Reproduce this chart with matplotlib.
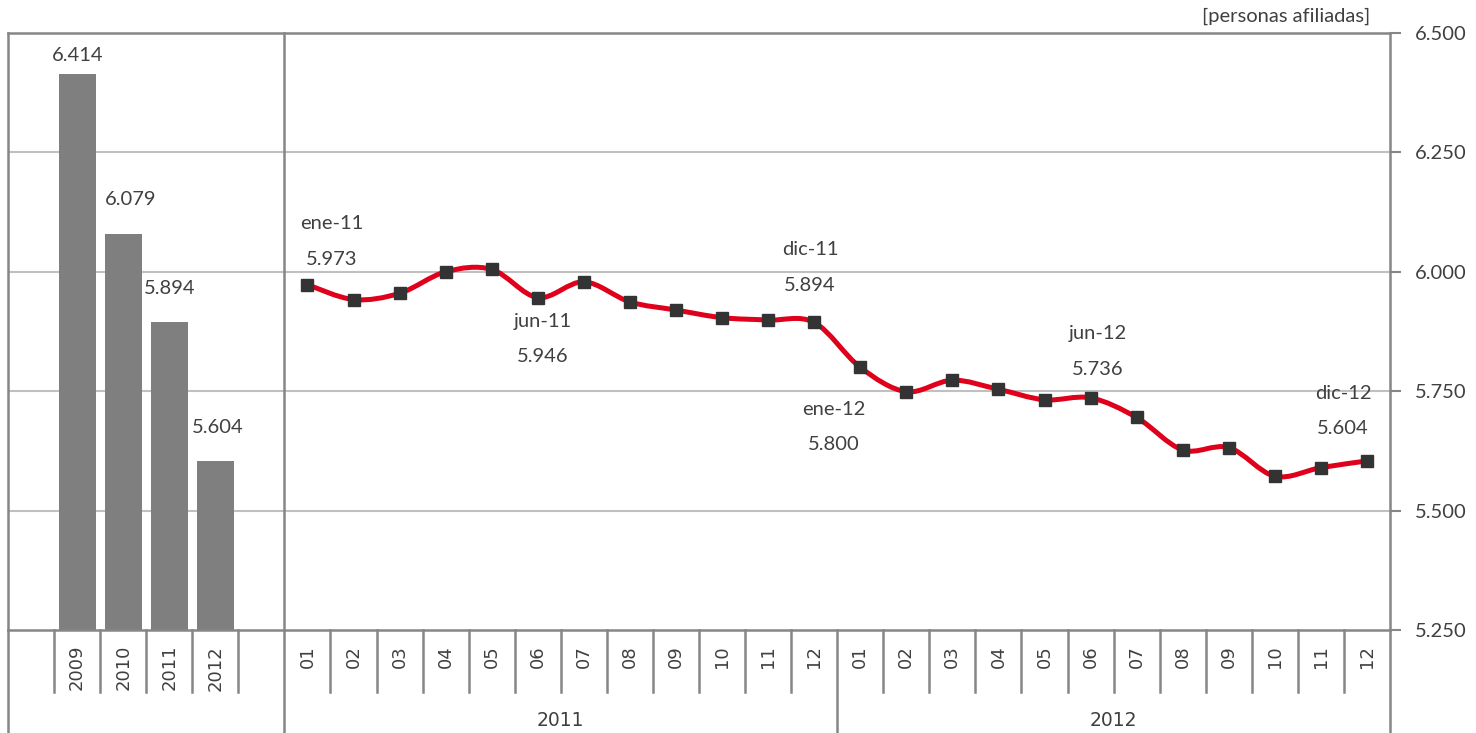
import numpy as np
import matplotlib
matplotlib.use('Agg')
from matplotlib import pyplot as plt
from matplotlib.path import Path
from matplotlib.patches import PathPatch
from matplotlib.lines import Line2D
import matplotlib.transforms as mtransforms

# data
years = ['2009', '2010', '2011', '2012']
year_values = [6.414, 6.079, 5.894, 5.604]

months = ['01', '02', '03', '04', '05', '06', '07', '08', '09', '10', '11', '12']
values_2011 = [5.973, 5.942, 5.955, 6.000, 6.005, 5.946, 5.979, 5.937, 5.920, 5.904, 5.899, 5.894]
values_2012 = [5.800, 5.749, 5.773, 5.754, 5.732, 5.736, 5.695, 5.627, 5.632, 5.572, 5.590, 5.604]

# labelled points: (month index in the 24-month series, label)
callouts = [(0, 'ene-11'), (5, 'jun-11'), (11, 'dic-11'), (12, 'ene-12'), (17, 'jun-12'), (23, 'dic-12')]

yticks = [5.25, 5.5, 5.75, 6.0, 6.25, 6.5]

# colours / fonts
GRAY_TXT = '#404040'
AX_COL = '#868686'
GRID_COL = '#c0c0c0'
BAR_COL = '#7f7f7f'
LINE_COL = '#e0001b'
MARK_COL = '#333333'
FONT = 'Lato'
TICKFONT = 'DejaVu Sans'

W, H = 1476, 733
fig = plt.figure(figsize=(W / 100, H / 100), dpi=100)
ax = fig.add_axes([8 / W, (H - 630) / H, 1382 / W, 597 / H])

# x layout: 0 empty, 1-4 bars, 5 empty, 6-29 months
bar_x = np.arange(1, 5)
line_x = np.arange(6, 30)
line_y = np.array(values_2011 + values_2012)

ax.set_xlim(-0.5, 29.5)
ax.set_ylim(5.25, 6.5)

for y in yticks[1:-1]:
    ax.axhline(y, color=GRID_COL, lw=1.5, zorder=0)

ax.bar(bar_x, year_values, width=0.8, color=BAR_COL, zorder=2)

# smoothed line (Bezier through the points, like a spreadsheet "smooth line")
pts = np.column_stack([line_x, line_y])
ext = np.vstack([pts[0], pts, pts[-1]])
verts = [tuple(pts[0])]
codes = [Path.MOVETO]
for i in range(len(pts) - 1):
    p0, p1, p2, p3 = ext[i], ext[i + 1], ext[i + 2], ext[i + 3]
    c1 = p1 + (p2 - p0) / 6
    c2 = p2 - (p3 - p1) / 6
    verts += [tuple(c1), tuple(c2), tuple(p2)]
    codes += [Path.CURVE4] * 3
ax.add_patch(PathPatch(Path(verts, codes), facecolor='none', edgecolor=LINE_COL,
                       lw=3.6, capstyle='round', joinstyle='round', zorder=3))
ax.plot(line_x, line_y, ls='none', marker='s', ms=8, color=MARK_COL, zorder=4)

# spines / axes
for s in ['left', 'bottom']:
    ax.spines[s].set_visible(False)
ax.spines['top'].set_color(AX_COL)
ax.spines['top'].set_linewidth(1.8)
ax.spines['right'].set_color(AX_COL)
ax.spines['right'].set_linewidth(1.8)
ax.axhline(5.25, color=AX_COL, lw=1.8, zorder=5, clip_on=False)

ax.yaxis.tick_right()
ax.set_yticks(yticks)
ax.set_yticklabels([f'{v:.3f}' for v in yticks], fontsize=14.5, family=FONT, color=GRAY_TXT)
ax.tick_params(axis='y', length=8, width=1.5, color=AX_COL, pad=10)
ax.set_xticks([])

# category grid below the axes
tr = mtransforms.blended_transform_factory(ax.transData, fig.transFigure)
y_axis = (H - 630) / H
y_short = (H - 692) / H
for b in np.arange(-0.5, 30, 1.0):
    if b in (-0.5, 5.5, 17.5, 29.5):
        y0 = 0
    else:
        y0 = y_short
    ax.add_line(Line2D([b, b], [y0, y_axis], transform=tr, color=AX_COL, lw=1.8, clip_on=False))
ax.add_line(Line2D([-0.5, -0.5], [y_axis, 1 - 33 / H], transform=tr, color=AX_COL, lw=1.8, clip_on=False))
ax.add_line(Line2D([5.5, 5.5], [y_axis, 1 - 33 / H], transform=tr, color=AX_COL, lw=1.8, clip_on=False))

tick_y = (H - 645) / H
for x, lab in zip(list(bar_x) + list(line_x), years + months + months):
    ax.text(x, tick_y, lab, transform=tr, rotation=90, ha='center', va='top',
            fontsize=13, fontfamily=TICKFONT, color=GRAY_TXT)
ax.text(11.5, (H - 720) / H, '2011', transform=tr, ha='center', va='center',
        fontsize=13.5, fontfamily=TICKFONT, color=GRAY_TXT)
ax.text(23.5, (H - 720) / H, '2012', transform=tr, ha='center', va='center',
        fontsize=13.5, fontfamily=TICKFONT, color=GRAY_TXT)

fig.text(1370 / W, 1 - 16 / H, '[personas afiliadas]', ha='right', va='center',
         fontsize=14.5, family=FONT, color=GRAY_TXT)

# labels (offsets in pixels)
px = 0.72
bar_offsets = [(1, 19), (7, 35), (0, 34), (2, 33)]
for x, v, (dx, dy) in zip(bar_x, year_values, bar_offsets):
    ax.annotate(f'{v:.3f}', (x, v), xytext=(dx * px, dy * px), textcoords='offset points',
                ha='center', va='center', fontsize=14.5, family=FONT, color=GRAY_TXT)

callout_offsets = {0: (24, 61, 25), 5: (5, -24, -59), 11: (-4, 73, 37),
                   12: (-26, -42, -77), 17: (7, 64, 28), 23: (-24, 67, 32)}
for i, name in callouts:
    dx, dn, dv = callout_offsets[i]
    xy = (line_x[i], line_y[i])
    ax.annotate(name, xy, xytext=(dx * px, dn * px), textcoords='offset points',
                ha='center', va='center', fontsize=14.5, family=FONT, color=GRAY_TXT)
    ax.annotate(f'{line_y[i]:.3f}', xy, xytext=(dx * px, dv * px), textcoords='offset points',
                ha='center', va='center', fontsize=14.5, family=FONT, color=GRAY_TXT)

fig.savefig('out.png', dpi=100)
